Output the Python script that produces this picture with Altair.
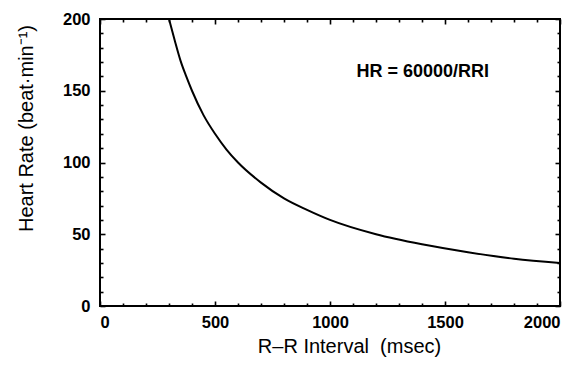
import altair as alt
import pandas as pd

# Curve: R-R interval (msec) vs heart rate (beat/min)
rri = [300, 325, 350, 375, 400, 450, 500, 550, 600, 700, 800, 900, 1000, 1200, 1400, 1600, 1800, 2000]
hr = [200, 185, 171, 160, 150, 133, 120, 109, 100, 86, 75, 67, 60, 50, 43, 37.5, 33, 30]

# Tick values
x_major = [0, 500, 1000, 1500, 2000]
x_minor = [100, 200, 300, 400, 600, 700, 800, 900, 1100, 1200, 1300, 1400, 1600, 1700, 1800, 1900]
y_major = [0, 50, 100, 150, 200]
y_minor = [10, 20, 30, 40, 60, 70, 80, 90, 110, 120, 130, 140, 160, 170, 180, 190]

# Annotation
annot_text = ["HR = 60000/RRI"]
annot_x = [1403]
annot_y = [163]

x_title = "R\u2013R Interval\u00a0\u00a0(msec)"
y_title = "Heart Rate (beat\u00b7min\u207b\u00b9)"

df = pd.DataFrame({"rri": rri, "hr": hr})
ann = pd.DataFrame({"rri": annot_x, "hr": annot_y, "t": annot_text})

FONT = "Liberation Sans"
xs = alt.Scale(domain=[0, 2000], nice=False, zero=False)
ys = alt.Scale(domain=[0, 200], nice=False, zero=False)


def ax(orient, values, size, **kw):
    base = dict(orient=orient, values=values, tickSize=size, offset=-size,
                domainOpacity=0, grid=False, tickColor="black", zindex=1,
                tickWidth=1.6, labels=False, title="")
    base.update(kw)
    return alt.Axis(**base)


label_style = dict(labels=True, format="d", labelFont=FONT, labelFontSize=16.5,
                   labelFontWeight="bold", labelColor="black")
title_style = dict(titleFont=FONT, titleFontSize=20, titleFontWeight="normal",
                   titleColor="black", titleBaseline="alphabetic", titleAlign="center")

MAJ = 5
MIN = 3

base = alt.Chart(df)

main = base.mark_line(color="black", strokeWidth=2, interpolate="monotone").encode(
    x=alt.X("rri:Q", scale=xs,
            axis=ax("bottom", x_major, MAJ, labelPadding=8, title=x_title,
                    titleX=249, titleY=51, **label_style, **title_style)),
    y=alt.Y("hr:Q", scale=ys,
            axis=ax("left", y_major, MAJ, labelPadding=10, title=y_title,
                    titleAngle=270, titleX=-73, titleY=109,
                    **label_style, **title_style)),
)

minor_bl = base.mark_line(strokeOpacity=0).encode(
    x=alt.X("rri:Q", scale=xs, axis=ax("bottom", x_minor, MIN)),
    y=alt.Y("hr:Q", scale=ys, axis=ax("left", y_minor, MIN)),
)

major_tr = base.mark_line(strokeOpacity=0).encode(
    x=alt.X("rri:Q", scale=xs, axis=ax("top", x_major, MAJ)),
    y=alt.Y("hr:Q", scale=ys, axis=ax("right", y_major, MAJ)),
)

text = alt.Chart(ann).mark_text(font=FONT, fontSize=18, fontWeight="bold",
                                color="black", align="center", baseline="middle").encode(
    x=alt.X("rri:Q", scale=xs, axis=ax("top", x_minor, MIN)),
    y=alt.Y("hr:Q", scale=ys, axis=ax("right", y_minor, MIN)),
    text="t:N",
)

chart = alt.layer(main, minor_bl, major_tr, text).resolve_axis(
    x="independent", y="independent"
).properties(
    width=460, height=287,
    autosize=alt.AutoSizeParams(type="none"),
    padding={"left": 92, "top": 11, "right": 17, "bottom": 52},
).configure_view(stroke="black", strokeWidth=2)

chart.save("out.html", embed_options={"renderer": "svg", "actions": False})
